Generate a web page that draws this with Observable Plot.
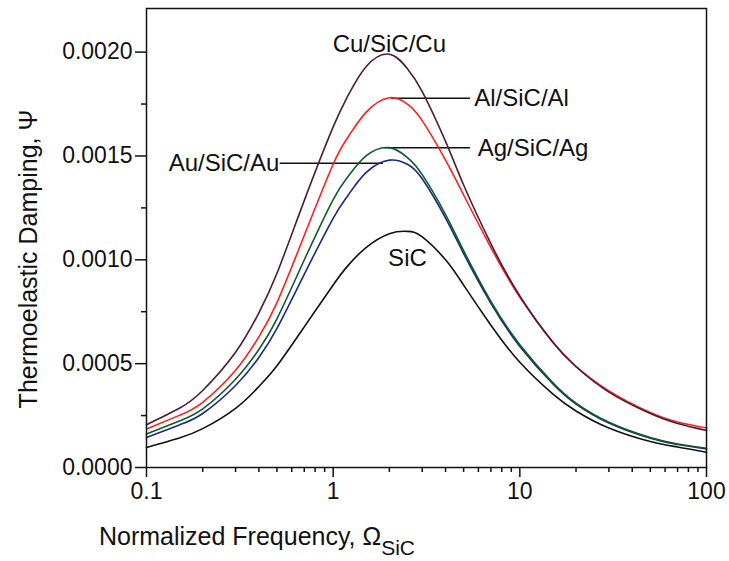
<!DOCTYPE html>
<html><head><meta charset="utf-8">
<script src="https://cdn.jsdelivr.net/npm/d3@7"></script>
<script src="https://cdn.jsdelivr.net/npm/@observablehq/plot@0.6"></script>
<style>
html,body{margin:0;padding:0;background:#fff;}
#chart{width:729px;height:561px;}
</style></head><body><div id="chart"></div>
<script>
// Normalized frequency (log axis)
const freq = [0.1,0.15,0.2,0.3,0.4,0.5,0.7,1,1.2,1.5,2,2.5,3,4,5,7,10,15,20,30,50,70,100];
// Thermoelastic damping values
const cuSiCCu = [0.000206,0.000285,0.000371,0.000555,0.000745,0.000935,0.001285,0.00164,0.00179,0.00193,0.00199,0.00192,0.00181,0.00157,0.00136,0.001077,0.000826,0.000603,0.000485,0.000363,0.000260,0.000212,0.000178];
const alSiCAl = [0.000185,0.000251,0.000314,0.000468,0.000629,0.000794,0.001117,0.00146,0.00159,0.00171,0.00178,0.00175,0.00167,0.00148,0.001312,0.001059,0.00082,0.000605,0.000487,0.000369,0.000265,0.000219,0.00019];
const agSiCAg = [0.000161,0.000224,0.000282,0.000425,0.000568,0.000716,0.000999,0.00129,0.00140,0.00150,0.00154,0.001492,0.00141,0.001218,0.001044,0.00080,0.000591,0.000409,0.00031,0.000218,0.000144,0.000113,0.0000926];
const auSiCAu = [0.000145,0.000205,0.00026,0.000395,0.00053,0.00067,0.00093,0.0012,0.00131,0.00142,0.00148,0.00146,0.00139,0.001201,0.00103,0.00079,0.000583,0.000403,0.000305,0.000214,0.000141,0.000111,0.0000897];
const sicOnly = [0.0000965,0.000142,0.000187,0.000285,0.00039,0.00049,0.000677,0.000879,0.000972,0.001059,0.001126,0.001137,0.00111,0.0010,0.000878,0.000685,0.000507,0.000355,0.000272,0.00019,0.000125,0.0000989,0.0000733];

// drawing order: bottom first
const seriesNames = ["SiC","Au/SiC/Au","Ag/SiC/Ag","Al/SiC/Al","Cu/SiC/Cu"];
const seriesValues = [sicOnly, auSiCAu, agSiCAg, alSiCAl, cuSiCCu];
const seriesColors = ["#111111","#1c2a7c","#0f5a2c","#ff1e1e","#4a1e3a"];

const xMajorTicks = [0.1,1,10,100];
const xMinorTicks = [0.2,0.3,0.4,0.5,0.6,0.7,0.8,0.9,2,3,4,5,6,7,8,9,20,30,40,50,60,70,80,90];
const yMajorTicks = [0,0.0005,0.0010,0.0015,0.0020];
const yMinorTicks = [0.00025,0.00075,0.00125,0.00175];

// curve labels (data coordinates) and leader lines
const labelText   = ["Cu/SiC/Cu","Al/SiC/Al","Ag/SiC/Ag","Au/SiC/Au","SiC"];
const labelX      = [2.0, 5.7, 5.95, 0.515, 2.5];
const labelY      = [0.002039, 0.001776, 0.001535, 0.001465, 0.001009];
const labelAnchor = ["middle","start","start","end","middle"];
const leaderY  = [0.001778, 0.00154, 0.001465];
const leaderX1 = [2.06, 1.9, 0.52];
const leaderX2 = [5.44, 5.44, 1.86];

const table = seriesNames.flatMap((s, i) => freq.map((f, j) => ({series: s, f, v: seriesValues[i][j]})));
const labels = labelText.map((t, i) => ({t, x: labelX[i], y: labelY[i], a: labelAnchor[i]}));
const leaders = leaderY.map((y, i) => ({y, x1: leaderX1[i], x2: leaderX2[i]}));

const chart = Plot.plot({
  width: 729, height: 561,
  marginLeft: 146, marginRight: 23, marginTop: 8, marginBottom: 94,
  style: {fontFamily: "'Liberation Sans', Arial, sans-serif", background: "#fff", color: "#111", overflow: "visible"},
  x: {type: "log", domain: [0.1, 100]},
  y: {domain: [0, 0.00221]},
  color: {domain: seriesNames, range: seriesColors},
  marks: [
    Plot.axisX(xMinorTicks, {tickSize: 5, strokeWidth: 1.5, fill: "none", label: null}),
    Plot.axisX(xMajorTicks, {tickSize: 10, strokeWidth: 1.5, tickPadding: 5, fontSize: 23, tickFormat: d => String(d), label: null}),
    Plot.axisY(yMinorTicks, {tickSize: 5, strokeWidth: 1.5, fill: "none", label: null}),
    Plot.axisY(yMajorTicks, {tickSize: 11, strokeWidth: 1.5, tickPadding: 3, fontSize: 23, tickFormat: d3.format(".4f"), label: null}),
    Plot.ruleY(leaders, {y: "y", x1: "x1", x2: "x2", stroke: "#111", strokeWidth: 1.5}),
    Plot.line(table, {x: "f", y: "v", z: "series", stroke: "series", strokeWidth: 1.6, curve: "natural"}),
    Plot.text(labels.filter(d => d.a === "middle"), {x: "x", y: "y", text: "t", textAnchor: "middle", fontSize: 24, fill: "#111"}),
    Plot.text(labels.filter(d => d.a === "start"), {x: "x", y: "y", text: "t", textAnchor: "start", fontSize: 24, fill: "#111"}),
    Plot.text(labels.filter(d => d.a === "end"), {x: "x", y: "y", text: "t", textAnchor: "end", fontSize: 24, fill: "#111"}),
    Plot.frame({stroke: "#111", strokeWidth: 1.5})
  ]
});

const svg = d3.select(chart);
const xt = svg.append("text")
  .attr("x", 257).attr("y", 545)
  .attr("font-size", 25).attr("fill", "#111");
xt.append("tspan").text("Normalized Frequency, \u03A9");
xt.append("tspan").attr("dy", 10).attr("font-size", 21).text("SiC");

svg.append("text")
  .attr("transform", "translate(37,259) rotate(-90)")
  .attr("text-anchor", "middle")
  .attr("font-size", 25).attr("fill", "#111")
  .text("Thermoelastic Damping, \u03A8");

document.getElementById("chart").appendChild(chart);
</script>
</body></html>
